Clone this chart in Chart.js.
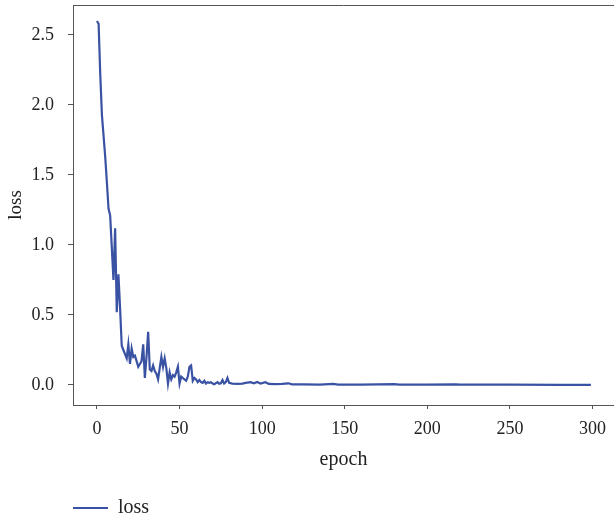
<!DOCTYPE html>
<html>
<head>
<meta charset="utf-8">
<script src="https://cdn.jsdelivr.net/npm/chart.js@4"></script>
<style>
  html, body { margin: 0; padding: 0; background: #fff; }
  #wrap { width: 614px; height: 522px; }
</style>
</head>
<body>
<div id="wrap"><canvas id="lossChart" width="614" height="522"></canvas></div>
<script>
// epoch / loss (dense at start, sparser on the flat tail)
var epochs = [0,1,2,3,4,5,6,7,8,9,10,11,12,13,14,15,16,17,18,19,20,
  21,22,23,24,25,26,27,28,29,30,31,32,33,34,35,36,37,38,39,40,
  41,42,43,44,45,46,47,48,49,50,51,52,53,54,55,56,57,58,59,60,
  61,62,63,64,65,66,67,68,69,70,71,73,74,75,76,77,78,79,80,82,85,88,90,
  93,95,97,99,102,104,108,112,116,118,125,135,143,146,160,180,183,
  200,217,220,250,280,299];
var losses = [2.60,2.58,2.22,1.93,1.78,1.63,1.45,1.26,1.21,0.98,0.75,
  1.12,0.52,0.79,0.55,0.28,0.25,0.22,0.19,0.29,0.15,
  0.26,0.20,0.21,0.17,0.13,0.15,0.17,0.29,0.05,0.20,
  0.38,0.11,0.10,0.14,0.10,0.08,0.04,0.12,0.20,0.13,
  0.19,0.12,0.01,0.09,0.04,0.07,0.06,0.09,0.13,0.01,
  0.06,0.05,0.04,0.03,0.06,0.13,0.14,0.03,0.05,0.04,
  0.02,0.035,0.02,0.015,0.03,0.01,0.02,0.015,0.02,0.01,
  0.005,0.02,0.008,0.012,0.035,0.01,0.02,0.05,0.015,0.01,0.008,0.01,0.015,
  0.02,0.012,0.022,0.01,0.02,0.008,0.006,0.008,0.012,0.005,
  0.004,0.003,0.008,0.003,0.002,0.006,0.002,
  0.002,0.005,0.002,0.002,0.001,0.001];
var xTicks = [0,50,100,150,200,250,300];
var yTicks = [0,0.5,1.0,1.5,2.0,2.5];

var frameColor = '#555';
var serif = "'Liberation Serif', 'DejaVu Serif', serif";

// top edge of the frame
var topFrame = {
  id: 'topFrame',
  afterDraw: function(chart) {
    var a = chart.chartArea, c = chart.ctx;
    c.save();
    c.strokeStyle = frameColor;
    c.lineWidth = 1;
    c.beginPath();
    c.moveTo(a.left, a.top + 0.5);
    c.lineTo(a.right, a.top + 0.5);
    c.stroke();
    c.restore();
  }
};

new Chart(document.getElementById('lossChart'), {
  type: 'line',
  data: {
    datasets: [{
      label: 'loss',
      data: epochs.map(function(e, i) { return {x: e, y: losses[i]}; }),
      borderColor: '#3a52a3',
      backgroundColor: '#3a52a3',
      borderWidth: 2.2,
      pointRadius: 0,
      tension: 0,
      fill: false
    }]
  },
  options: {
    responsive: false,
    animation: false,
    layout: { padding: { top: 5, left: 0, right: 0, bottom: -6 } },
    plugins: {
      legend: {
        position: 'bottom',
        align: 'start',
        fullSize: false,
        labels: {
          usePointStyle: true,
          pointStyle: 'line',
          pointStyleWidth: 35,
          padding: 0,
          color: '#222',
          font: { family: serif, size: 20 }
        }
      },
      tooltip: { enabled: false }
    },
    scales: {
      x: {
        type: 'linear',
        min: -14.5,
        max: 313,
        afterFit: function(s) { s.height = 93; s.paddingLeft = 0; s.paddingRight = 0; },
        afterBuildTicks: function(s) { s.ticks = xTicks.map(function(v) { return {value: v}; }); },
        ticks: { padding: 9, color: '#222', font: { family: serif, size: 18 } },
        grid: { drawOnChartArea: false, drawTicks: true, tickLength: 4, color: frameColor },
        border: { display: true, color: frameColor, width: 1 },
        title: { display: true, text: 'epoch', color: '#222', padding: { top: 4, bottom: 26 }, font: { family: serif, size: 20 } }
      },
      y: {
        min: -0.143,
        max: 2.714,
        afterFit: function(s) { s.width = 73; s.paddingTop = 0; s.paddingBottom = 0; },
        afterBuildTicks: function(s) { s.ticks = yTicks.map(function(v) { return {value: v}; }); },
        ticks: {
          padding: 14, color: '#222', font: { family: serif, size: 18 },
          callback: function(v) { return v.toFixed(1); }
        },
        grid: { drawOnChartArea: false, drawTicks: true, tickLength: 5, color: frameColor },
        border: { display: true, color: frameColor, width: 1 },
        title: { display: true, text: 'loss', color: '#222', padding: { top: 5, bottom: 0 }, font: { family: serif, size: 19 } }
      }
    }
  },
  plugins: [topFrame]
});
</script>
</body>
</html>
